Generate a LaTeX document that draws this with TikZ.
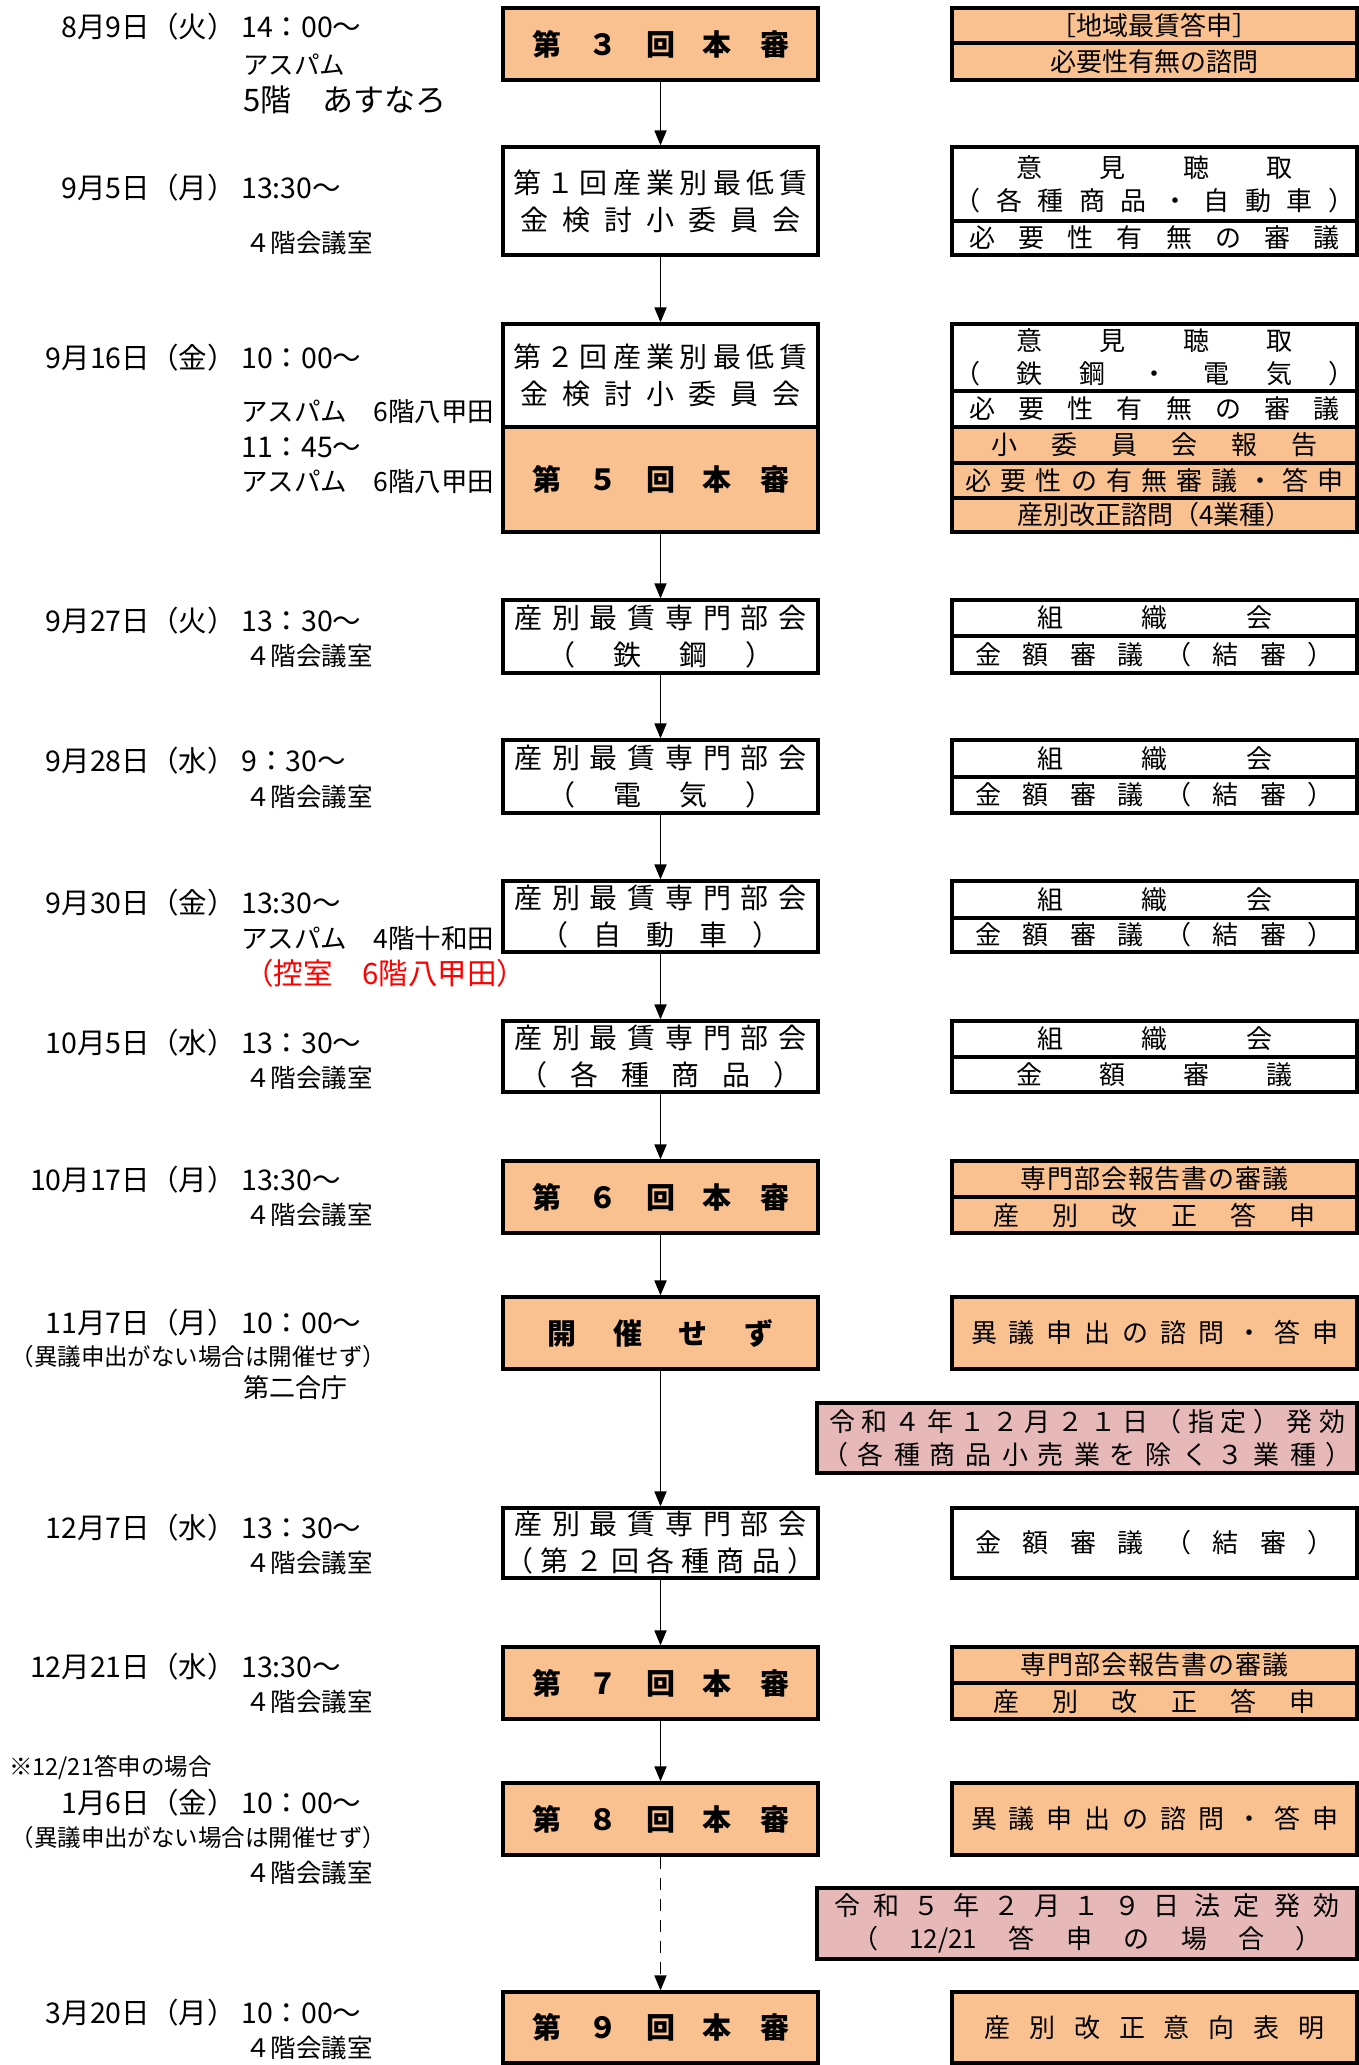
\documentclass[tikz,border=0pt]{standalone}
\usepackage{fontspec}
\setmainfont{Noto Sans CJK JP}
\usetikzlibrary{arrows.meta}
\definecolor{honiro}{HTML}{F9C18F}
\definecolor{hakkoiro}{HTML}{E6B8B7}
\definecolor{hikaeiro}{HTML}{FF0000}

% spread characters evenly over a width
\def\kintoaux#1{\ifx\relax#1\else#1\hfill\expandafter\kintoaux\fi}
\newcommand\kinto[2]{\makebox[#1][s]{\kintoaux#2\relax\unskip}}

\tikzset{
  waku/.style={draw, line width=3.2pt, inner sep=0pt, align=center},
  honbox/.style={waku, fill=honiro, minimum width=315pt, font=\fontsize{29}{36}\selectfont\bfseries},
  iinbox/.style={waku, fill=white, minimum width=315pt, font=\fontsize{28}{37}\selectfont},
  migibox/.style={waku, fill=white, minimum width=405pt, font=\fontsize{26}{33}\selectfont},
  migihon/.style={migibox, fill=honiro},
  hakko/.style={waku, fill=hakkoiro, minimum width=540pt, font=\fontsize{26}{33}\selectfont},
  hiduke/.style={anchor=east, inner sep=0pt, font=\fontsize{28.5}{34}\selectfont},
  jikan/.style={anchor=west, inner sep=0pt, font=\fontsize{28.5}{34}\selectfont},
  basho/.style={anchor=west, inner sep=0pt, font=\fontsize{25.5}{30}\selectfont},
  chuki/.style={inner sep=0pt, font=\fontsize{23.5}{28}\selectfont},
  yajirushi/.style={line width=1.8pt, -{Triangle[length=15pt,width=12pt]}},
}

\begin{document}
\begin{tikzpicture}[x=1pt,y=-1pt]
\useasboundingbox (0,0) rectangle (1359,2065);

% 8/9
\node[hiduke] (d1) at (236,27) {8月9日（火）};
\node[jikan] (t1) at (241,27) {14：00〜};
\node[basho] (p1) at (243,65) {アスパム};
\node[basho, font=\fontsize{31}{34}\selectfont] (p1b) at (243,100) {5階　あすなろ};
\node[honbox, minimum height=72pt] (hon3) at (660.5,44) {\kinto{257pt}{第３回本審}};
\node[migihon, minimum height=35pt] (r1a) at (1154.5,25.5) {［地域最賃答申］};
\node[migihon, minimum height=37pt] (r1b) at (1154.5,61.5) {必要性有無の諮問};

% 9/5
\node[hiduke] (d2) at (236,188) {9月5日（月）};
\node[jikan] (t2) at (241,188) {13:30〜};
\node[basho] (p2) at (245,243) {４階会議室};
\node[iinbox, minimum height=108pt] (sho1) at (660.5,201) {\kinto{295pt}{第１回産業別最低賃}\\\kinto{280pt}{金検討小委員会}};
\node[migibox, minimum height=74pt] (r2a) at (1154.5,184) {\kinto{276pt}{意見聴取}\\\kinto{400pt}{（各種商品・自動車）}};
\node[migibox, minimum height=34pt] (r2b) at (1154.5,238) {\kinto{370pt}{必要性有無の審議}};

% 9/16
\node[hiduke] (d3) at (236,358) {9月16日（金）};
\node[jikan] (t3) at (241,358) {10：00〜};
\node[basho, font=\fontsize{26.5}{30}\selectfont] (p3) at (241,412) {アスパム　6階八甲田};
\node[jikan] (t3b) at (241,448) {11：45〜};
\node[basho, font=\fontsize{26.5}{30}\selectfont] (p3b) at (241,482) {アスパム　6階八甲田};
\node[iinbox, minimum height=103pt] (sho2) at (660.5,375.5) {\kinto{295pt}{第２回産業別最低賃}\\\kinto{280pt}{金検討小委員会}};
\node[honbox, minimum height=105pt] (hon5) at (660.5,479.5) {\kinto{257pt}{第５回本審}};
\node[migibox, minimum height=67pt] (r3a) at (1154.5,357.5) {\kinto{276pt}{意見聴取}\\\kinto{400pt}{（鉄鋼・電気）}};
\node[migibox, minimum height=36pt] (r3b) at (1154.5,409) {\kinto{370pt}{必要性有無の審議}};
\node[migihon, minimum height=36pt] (r3c) at (1154.5,445) {\kinto{327pt}{小委員会報告}};
\node[migihon, minimum height=35pt] (r3d) at (1154.5,480.5) {\kinto{378pt}{必要性の有無審議・答申}};
\node[migihon, minimum height=34pt] (r3e) at (1154.5,515) {産別改正諮問（4業種）};

% 9/27
\node[hiduke] (d4) at (236,621) {9月27日（火）};
\node[jikan] (t4) at (241,621) {13：30〜};
\node[basho] (p4) at (245,656) {４階会議室};
\node[iinbox, minimum height=73pt] (tekko) at (660.5,636.5) {\kinto{292pt}{産別最賃専門部会}\\\kinto{226pt}{（鉄鋼）}};
\node[migibox, minimum height=36pt] (r4a) at (1154.5,618) {\kinto{235pt}{組織会}};
\node[migibox, minimum height=37pt] (r4b) at (1154.5,654.5) {\kinto{358pt}{金額審議（結審）}};

% 9/28
\node[hiduke] (d5) at (236,761) {9月28日（水）};
\node[jikan] (t5) at (241,761) {9：30〜};
\node[basho] (p5) at (245,797) {４階会議室};
\node[iinbox, minimum height=73pt] (denki) at (660.5,776.5) {\kinto{292pt}{産別最賃専門部会}\\\kinto{226pt}{（電気）}};
\node[migibox, minimum height=37pt] (r5a) at (1154.5,758.5) {\kinto{235pt}{組織会}};
\node[migibox, minimum height=36pt] (r5b) at (1154.5,795) {\kinto{358pt}{金額審議（結審）}};

% 9/30
\node[hiduke] (d6) at (236,903) {9月30日（金）};
\node[jikan] (t6) at (241,903) {13:30〜};
\node[basho, font=\fontsize{26.5}{30}\selectfont] (p6) at (241,938) {アスパム　4階十和田};
\node[basho, text=hikaeiro, font=\fontsize{29.5}{32}\selectfont] (p6b) at (244,973) {（控室　6階八甲田）};
\node[iinbox, minimum height=71pt] (jidosha) at (660.5,916.5) {\kinto{292pt}{産別最賃専門部会}\\\kinto{240pt}{（自動車）}};
\node[migibox, minimum height=37pt] (r6a) at (1154.5,899.5) {\kinto{235pt}{組織会}};
\node[migibox, minimum height=34pt] (r6b) at (1154.5,935) {\kinto{358pt}{金額審議（結審）}};

% 10/5
\node[hiduke] (d7) at (236,1043) {10月5日（水）};
\node[jikan] (t7) at (241,1043) {13：30〜};
\node[basho] (p7) at (245,1078) {４階会議室};
\node[iinbox, minimum height=71pt] (shohin) at (660.5,1056.5) {\kinto{292pt}{産別最賃専門部会}\\\kinto{282pt}{（各種商品）}};
\node[migibox, minimum height=36pt] (r7a) at (1154.5,1039) {\kinto{235pt}{組織会}};
\node[migibox, minimum height=35pt] (r7b) at (1154.5,1074.5) {\kinto{277pt}{金額審議}};

% 10/17
\node[hiduke] (d8) at (236,1180) {10月17日（月）};
\node[jikan] (t8) at (241,1180) {13:30〜};
\node[basho] (p8) at (245,1215) {４階会議室};
\node[honbox, minimum height=72pt] (hon6) at (660.5,1197) {\kinto{257pt}{第６回本審}};
\node[migihon, minimum height=36pt] (r8a) at (1154.5,1179) {\kinto{268pt}{専門部会報告書の審議}};
\node[migihon, minimum height=36pt] (r8b) at (1154.5,1215) {\kinto{322pt}{産別改正答申}};

% 11/7
\node[hiduke] (d9) at (236,1323) {11月7日（月）};
\node[jikan] (t9) at (241,1323) {10：00〜};
\node[chuki] (n9) at (198.5,1357) {（異議申出がない場合は開催せず）};
\node[basho, font=\fontsize{26}{30}\selectfont] (p9) at (243,1388) {第二合庁};
\node[honbox, minimum height=72pt] (sezu) at (660.5,1333) {\kinto{226pt}{開催せず}};
\node[migihon, minimum height=72pt] (r9) at (1154.5,1333) {\kinto{367pt}{異議申出の諮問・答申}};
\node[hakko, minimum height=70pt] (hakko1) at (1087,1438) {\kinto{516pt}{令和４年１２月２１日（指定）発効}\\\kinto{530pt}{（各種商品小売業を除く３業種）}};

% 12/7
\node[hiduke] (d10) at (236,1528) {12月7日（水）};
\node[jikan] (t10) at (241,1528) {13：30〜};
\node[basho] (p10) at (245,1563) {４階会議室};
\node[iinbox, minimum height=70pt] (shohin2) at (660.5,1543) {\kinto{292pt}{産別最賃専門部会}\\\kinto{310pt}{（第２回各種商品）}};
\node[migibox, minimum height=70pt] (r10) at (1154.5,1543) {\kinto{358pt}{金額審議（結審）}};

% 12/21
\node[hiduke] (d11) at (236,1667) {12月21日（水）};
\node[jikan] (t11) at (241,1667) {13:30〜};
\node[basho] (p11) at (245,1702) {４階会議室};
\node[honbox, minimum height=72pt] (hon7) at (660.5,1683) {\kinto{257pt}{第７回本審}};
\node[migihon, minimum height=36pt] (r11a) at (1154.5,1665) {\kinto{268pt}{専門部会報告書の審議}};
\node[migihon, minimum height=36pt] (r11b) at (1154.5,1701) {\kinto{322pt}{産別改正答申}};

% 1/6
\node[chuki, anchor=west] (n12a) at (9,1768) {※12/21答申の場合};
\node[hiduke] (d12) at (236,1803) {1月6日（金）};
\node[jikan] (t12) at (241,1803) {10：00〜};
\node[chuki] (n12b) at (198.5,1838) {（異議申出がない場合は開催せず）};
\node[basho] (p12) at (245,1873) {４階会議室};
\node[honbox, minimum height=72pt] (hon8) at (660.5,1819) {\kinto{257pt}{第８回本審}};
\node[migihon, minimum height=72pt] (r12) at (1154.5,1819) {\kinto{367pt}{異議申出の諮問・答申}};
\node[hakko, minimum height=71pt] (hakko2) at (1087,1923.5) {\kinto{506pt}{令和５年２月１９日法定発効}\\\kinto{470pt}{（{12/21}答申の場合）}};

% 3/20
\node[hiduke] (d13) at (236,2013) {3月20日（月）};
\node[jikan] (t13) at (241,2013) {10：00〜};
\node[basho] (p13) at (245,2048) {４階会議室};
\node[honbox, minimum height=71pt] (hon9) at (660.5,2027.5) {\kinto{257pt}{第９回本審}};
\node[migihon, minimum height=71pt] (r13) at (1154.5,2027.5) {\kinto{340pt}{産別改正意向表明}};

% arrows
\draw[yajirushi] (hon3.south) -- (sho1.north);
\draw[yajirushi] (sho1.south) -- (sho2.north);
\draw[yajirushi] (hon5.south) -- (tekko.north);
\draw[yajirushi] (tekko.south) -- (denki.north);
\draw[yajirushi] (denki.south) -- (jidosha.north);
\draw[yajirushi] (jidosha.south) -- (shohin.north);
\draw[yajirushi] (shohin.south) -- (hon6.north);
\draw[yajirushi] (hon6.south) -- (sezu.north);
\draw[yajirushi] (sezu.south) -- (shohin2.north);
\draw[yajirushi] (shohin2.south) -- (hon7.north);
\draw[yajirushi] (hon7.south) -- (hon8.north);
\draw[yajirushi, dash pattern=on 12pt off 9pt] (hon8.south) -- (hon9.north);
\end{tikzpicture}
\end{document}
